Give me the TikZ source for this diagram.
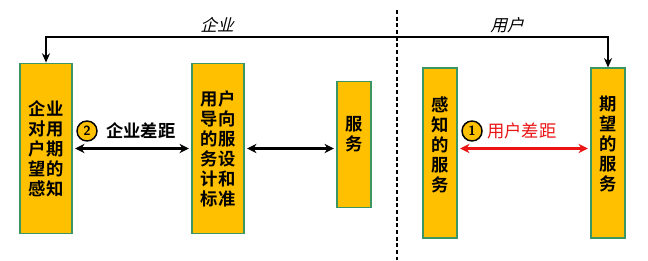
\documentclass[tikz,border=0pt]{standalone}
\usepackage{fontspec}
\newfontfamily\cjk{Noto Sans CJK SC}[BoldFont={Noto Sans CJK SC Bold}]
\newfontfamily\cjkslant{Noto Sans CJK SC}[FakeSlant=0.25]
\usetikzlibrary{arrows.meta}
\definecolor{boxgold}{RGB}{255,192,0}
\definecolor{boxedge}{RGB}{60,150,100}
\definecolor{gapred}{RGB}{235,20,20}

\begin{document}
\begin{tikzpicture}[x=0.75pt, y=-0.75pt,
  box/.style={draw=boxedge, fill=boxgold, line width=0.8pt, inner sep=0pt, align=center,
    font=\cjk\bfseries\fontsize{13}{15}\selectfont},
  gap/.style={line width=1.8pt, shorten <=2pt, shorten >=2pt,
    {Stealth[length=7pt,width=7pt]}-{Stealth[length=7pt,width=7pt]}},
  num/.style={circle, draw, fill=boxgold, line width=1.1pt, inner sep=0pt, minimum size=15pt,
    font=\sffamily\bfseries\fontsize{10}{10}\selectfont},
  gaplabel/.style={anchor=west, inner sep=0pt, font=\cjk\bfseries\fontsize{13}{15}\selectfont},
  side/.style={font=\cjkslant\fontsize{12.5}{14}\selectfont}]
\useasboundingbox (0,0) rectangle (648,260);
\coordinate (topbar) at (300,37);
\coordinate (divtop) at (397,10);
\coordinate (divbot) at (397,260);
\node[box, minimum width=39pt, minimum height=128pt] (percept) at (46,148.5)
  {企业\\对用\\户期\\望的\\感知};
\node[box, minimum width=39pt, minimum height=128pt] (design) at (218,148.5)
  {用户\\导向\\的服\\务设\\计和\\标准};
\node[box, minimum width=25.5pt, minimum height=95pt, text depth=17pt] (service) at (354,144.5)
  {服\\务};
\node[box, minimum width=25.5pt, minimum height=127.5pt, text depth=14pt] (felt) at (440,153)
  {感\\知\\的\\服\\务};
\node[box, minimum width=25.5pt, minimum height=127.5pt, text depth=14pt] (expect) at (608,153)
  {期\\望\\的\\服\\务};
\draw[dashed, dash pattern=on 3pt off 2pt, line width=0.8pt] (divtop) -- (divbot);
\draw[line width=1.1pt, {Stealth[length=7pt,width=6pt]}-{Stealth[length=7pt,width=6pt]}]
  (percept.north) |- (topbar) -| (expect.north);
\node[side] (firm) at (217,25) {企业};
\node[side] (user) at (507,25) {用户};
\draw[gap] (percept.east) -- (design.west);
\draw[gap] (design.east) -- (design.east -| service.west);
\draw[gap, gapred] (felt.east |- percept.east) -- (expect.west |- percept.east);
\node[num] (two) at (87,131) {2};
\node[gaplabel] (firmgap) at (106,131) {企业差距};
\node[num] (one) at (472,131) {1};
\node[gaplabel, text=gapred, font=\cjk\fontsize{13}{15}\selectfont] (usergap) at (487,131) {用户差距};
\end{tikzpicture}
\end{document}
